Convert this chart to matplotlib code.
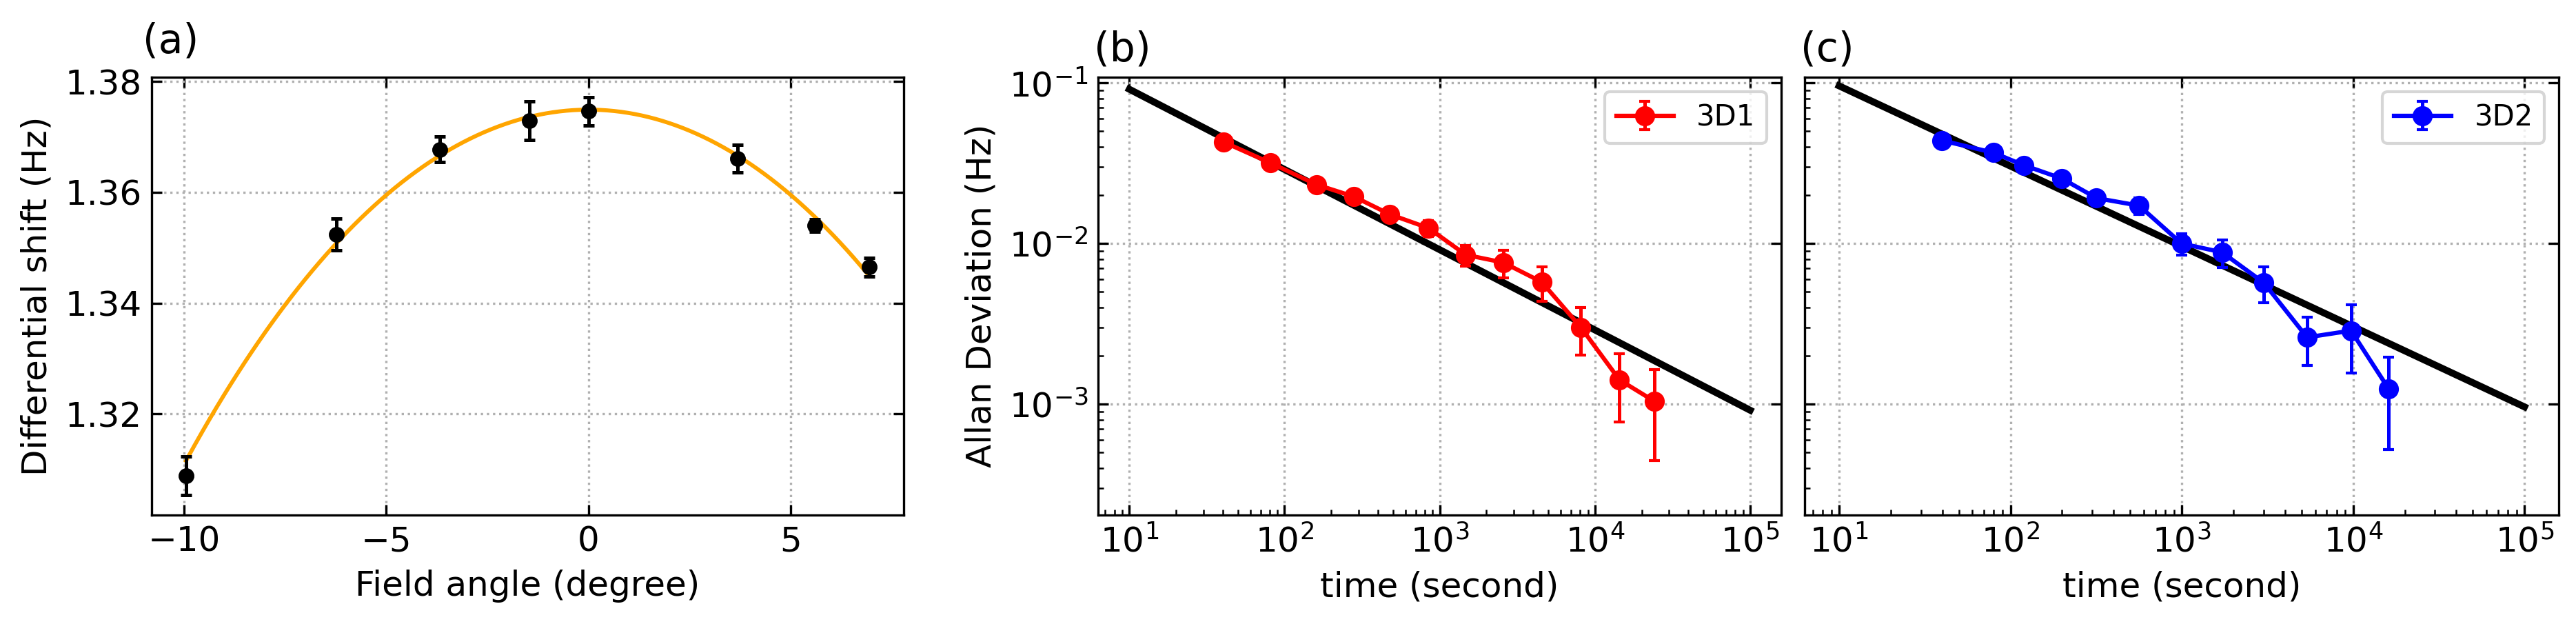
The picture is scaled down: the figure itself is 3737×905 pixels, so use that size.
import numpy as np
import matplotlib
matplotlib.use("Agg")
import matplotlib.pyplot as plt

# ---------------- data ----------------
# (a) differential shift vs field angle
angle_deg = [-9.95, -6.23, -3.67, -1.47, 0.0, 3.68, 5.60, 6.94]
shift_hz = [1.3089, 1.3524, 1.3677, 1.3729, 1.3746, 1.3661, 1.3540, 1.3465]
shift_err = [0.0035, 0.0029, 0.0023, 0.0035, 0.0026, 0.0025, 0.0011, 0.0017]
# fitted curve (polynomial coefficients, highest power first)
fit_coeffs = [-3.2e-7, 0.0, -6.08e-4, 0.0, 1.3749]

# (b) Allan deviation 3D1
tau_3d1 = [40.3, 80.7, 161, 280, 478, 847, 1472, 2560, 4540, 8100, 14380, 24060]
adev_3d1 = [0.0430, 0.03185, 0.02328, 0.0196, 0.01519, 0.01248, 0.0085, 0.00762,
            0.00576, 0.00301, 0.001415, 0.001043]
err_3d1 = [0.0010, 0.0008, 0.0007, 0.0006, 0.0007, 0.0014, 0.00127, 0.0015,
           0.0014, 0.0010, 0.00064, 0.0006]
line_tau_3d1 = [10, 1e5]
line_adev_3d1 = [0.0915, 9.15e-4]

# (c) Allan deviation 3D2
tau_3d2 = [39.7, 79.6, 119.6, 199.7, 318, 563, 997, 1718, 3003, 5383, 9720, 16120]
adev_3d2 = [0.0439, 0.03681, 0.03076, 0.0254, 0.01919, 0.01722, 0.0100, 0.00882,
            0.00571, 0.002603, 0.002866, 0.001243]
err_3d2 = [0.0010, 0.0009, 0.0008, 0.0007, 0.0008, 0.0020, 0.0015, 0.0017,
           0.00145, 0.00087, 0.0013, 0.00072]
line_tau_3d2 = [10, 1e5]
line_adev_3d2 = [0.096, 9.6e-4]

# ---------------- figure ----------------
W, H, DPI = 3737, 905, 300
fig = plt.figure(figsize=(W / DPI, H / DPI), dpi=DPI)
plt.rcParams['font.family'] = ['DejaVu Sans']


def px_axes(left, right, top, bottom):
    return fig.add_axes([left / W, 1 - bottom / H, (right - left) / W, (bottom - top) / H])


ax_a = px_axes(220.3, 1310.7, 111.7, 746.7)
ax_b = px_axes(1593.3, 2584.0, 111.7, 746.7)
ax_c = px_axes(2618.3, 3712.0, 111.7, 746.7)

FS_TICK = 12
FS_LABEL = 12

for ax in (ax_a, ax_b, ax_c):
    ax.tick_params(which='both', direction='in', top=True, right=True, labelsize=FS_TICK)
    ax.grid(True, which='major', linestyle=':', color='#b0b0b0', linewidth=0.8)

# (a)
xa = np.asarray(angle_deg)
xfit = np.linspace(xa.min(), xa.max(), 400)
ax_a.plot(xfit, np.polyval(fit_coeffs, xfit), color='orange', lw=1.4)
ax_a.errorbar(angle_deg, shift_hz, yerr=shift_err, fmt='o', color='k', ms=4.5,
              capsize=2, elinewidth=1.2, capthick=1.2)
ax_a.set_xlabel('Field angle (degree)', fontsize=FS_LABEL)
ax_a.set_ylabel('Differential shift (Hz)', fontsize=FS_LABEL)
ax_a.set_yticks([1.32, 1.34, 1.36, 1.38])

# (b)
ax_b.plot(line_tau_3d1, line_adev_3d1, color='k', lw=2.4)
ax_b.errorbar(tau_3d1, adev_3d1, yerr=err_3d1, fmt='o-', color='r', ms=6, lw=1.5,
              capsize=2, elinewidth=1.2, label='3D1')
ax_b.set_xscale('log')
ax_b.set_yscale('log')
ax_b.set_xlabel('time (second)', fontsize=FS_LABEL)
ax_b.set_ylabel('Allan Deviation (Hz)', fontsize=FS_LABEL)
ax_b.legend(loc='upper right', fontsize=10)

# (c)
ax_c.plot(line_tau_3d2, line_adev_3d2, color='k', lw=2.4)
ax_c.errorbar(tau_3d2, adev_3d2, yerr=err_3d2, fmt='o-', color='b', ms=6, lw=1.5,
              capsize=2, elinewidth=1.2, label='3D2')
ax_c.set_xscale('log')
ax_c.set_yscale('log')
ax_c.set_xlabel('time (second)', fontsize=FS_LABEL)
ax_c.legend(loc='upper right', fontsize=10)
ax_c.tick_params(labelleft=False)

for ax in (ax_b, ax_c):
    ax.set_ylim(2.04e-4, 0.109)
    ax.tick_params(which='minor', top=False, right=False)

# panel labels
fig.text(206.7 / W, 1 - 76 / H, '(a)', fontsize=14, va='baseline', ha='left')
fig.text(1586.7 / W, 1 - 88 / H, '(b)', fontsize=14, va='baseline', ha='left')
fig.text(2612.0 / W, 1 - 88 / H, '(c)', fontsize=14, va='baseline', ha='left')

fig.savefig('out.png', dpi=DPI)
